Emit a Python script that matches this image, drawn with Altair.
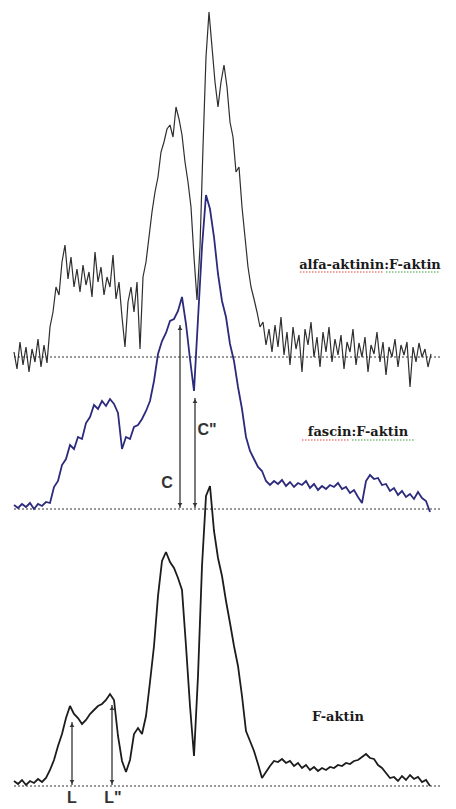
import altair as alt
import pandas as pd

# ---- profile data (heights above each trace's own baseline) ----
alfa_pos = list(range(14, 432, 3))
alfa_h = [5, -12, 15, -8, 10, -15, 8, -5, 18, -10, 12, -6,
          30, 45, 70, 62, 95, 112, 78, 100, 70, 88, 65, 92, 72, 85, 60, 105,
          75, 90, 62, 80, 70, 102, 58, 75, 40, 10, 55, 70, 45, 75, 8, 80,
          95, 120, 145, 165, 180, 205, 215, 228, 232, 220, 250, 238, 222, 195,
          175, 150, 100, 57, 110, 210, 300, 345, 310, 275, 250, 275, 292, 270,
          235, 220, 185, 190, 150, 120, 90, 70, 58, 45, 30, 35, 12, 28, 5, 32,
          10, 40, 2, 25, -8, 30, 8, 22, -15, 28, 12, 35, 0, 20, -10, 25, 5, 30,
          -5, 18, 2, 22, -12, 15, 5, 28, -8, 14, 0, 20, -15, 12, 3, 25, -5, 15,
          -18, 10, 0, 18, -10, 12, 2, 15, -30, 10, -5, 14, 0, 8, -10, 3]

fascin_pos = list(range(14, 431, 4))
fascin_h = [4, 1, 5, 2, 6, 0, 5, 3, 7, 6,
            22, 28, 44, 50, 64, 60, 72, 70, 86, 92,
            104, 100, 108, 103, 110, 105, 96, 60, 72, 70,
            82, 84, 90, 98, 108, 128, 155, 168, 176, 188,
            190, 198, 212, 185, 150, 118, 190, 262, 314, 300,
            272, 235, 208, 192, 165, 148, 122, 100, 72, 58,
            50, 42, 38, 28,
            24, 28, 25, 29, 23, 27, 22, 26, 24, 28,
            21, 25, 19, 23, 20, 24, 22, 26, 20, 22,
            16, 19, 12, 6, 28, 34, 30, 31, 24, 25,
            18, 21, 14, 18, 12, 15, 10, 17, 11, 8, -3]

faktin_pos = list(range(14, 431, 4))
faktin_h = [5, 2, 6, 1, 5, 3, 7, 4, 8, 16,
            26, 40, 52, 68, 80, 72, 68, 62, 66, 72,
            76, 80, 82, 86, 92, 86, 50, 25, 14, 26,
            52, 58, 52, 70, 104, 140, 190, 225, 234, 224,
            218, 208, 196, 140, 80, 30, 110, 220, 290, 300,
            255, 228, 210, 185, 163, 140, 120, 90, 55, 45,
            35, 22, 8,
            14, 20, 25, 24, 27, 23, 25, 20, 23, 18,
            21, 16, 19, 15, 18, 16, 19, 18, 21, 20,
            23, 22, 25, 26, 29, 32, 28, 27, 21, 18,
            13, 8, 9, 5, 10, 6, 11, 7, 9, 4, 6, 0]

trace_names = ["alfa-aktinin:F-aktin", "fascin:F-aktin", "F-aktin"]
trace_offsets = [452, 300, 23]
trace_colors = ["#2e2e2e", "#2c2a7c", "#1c1c1c"]
trace_widths = [1.2, 1.8, 1.8]

label_pos = [370, 358, 338]
label_h = [92, 77, 69]

# spell-check style underlines beneath the labels
underline_trace = [0, 0, 1, 1]
underline_x1 = [300, 386, 302, 352]
underline_x2 = [384, 440, 350, 414]
underline_h = [85, 85, 69, 69]
underline_color = ["#e0403a", "#3c9a3c", "#e0403a", "#3c9a3c"]

arrow_names = ["C", 'C"', "L", 'L"']
arrow_trace = [1, 1, 2, 2]
arrow_pos = [180, 195, 72, 112]
arrow_top = [184, 111, 64, 81]
arrow_text_pos = [167, 207, 72, 113]
arrow_text_h = [26, 79, -12, -12]

# ---- build tables ----
profiles = [(alfa_pos, alfa_h), (fascin_pos, fascin_h), (faktin_pos, faktin_h)]

xs = alt.Scale(domain=[0, 456], nice=False, zero=False)
ys = alt.Scale(domain=[0, 809], nice=False, zero=False)

layers = []

base_df = pd.DataFrame({
    "x": [14] * 3, "x2": [440] * 3, "level": trace_offsets
})
layers.append(
    alt.Chart(base_df).mark_rule(color="#333333", strokeDash=[2, 2], strokeWidth=1).encode(
        x=alt.X("x:Q", scale=xs, axis=None), x2="x2:Q",
        y=alt.Y("level:Q", scale=ys, axis=None))
)

for (pos, h), off, col, w in zip(profiles, trace_offsets, trace_colors, trace_widths):
    df = pd.DataFrame({"pos": pos, "level": [v + off for v in h]})
    layers.append(
        alt.Chart(df).mark_line(color=col, strokeWidth=w, strokeJoin="miter",
                                strokeMiterLimit=2).encode(
            x=alt.X("pos:Q", scale=xs, axis=None),
            y=alt.Y("level:Q", scale=ys, axis=None))
    )

arr_df = pd.DataFrame({
    "name": arrow_names,
    "x": arrow_pos,
    "y1": [trace_offsets[t] + 1 for t in arrow_trace],
    "y2": [trace_offsets[t] + a for t, a in zip(arrow_trace, arrow_top)],
    "tx": arrow_text_pos,
    "ty": [trace_offsets[t] + a for t, a in zip(arrow_trace, arrow_text_h)],
})
layers.append(
    alt.Chart(arr_df).mark_rule(color="#333333", strokeWidth=1.3).encode(
        x=alt.X("x:Q", scale=xs, axis=None),
        y=alt.Y("y1:Q", scale=ys, axis=None), y2="y2:Q")
)
layers.append(
    alt.Chart(arr_df).mark_point(shape="triangle-down", filled=True, size=22,
                                 color="#333333", opacity=1, yOffset=-3).encode(
        x=alt.X("x:Q", scale=xs, axis=None),
        y=alt.Y("y1:Q", scale=ys, axis=None))
)
layers.append(
    alt.Chart(arr_df).mark_point(shape="triangle-up", filled=True, size=22,
                                 color="#333333", opacity=1, yOffset=3).encode(
        x=alt.X("x:Q", scale=xs, axis=None),
        y=alt.Y("y2:Q", scale=ys, axis=None))
)
layers.append(
    alt.Chart(arr_df).mark_text(font="Liberation Sans", fontWeight="bold", fontSize=16,
                                color="#333333", align="center", baseline="middle").encode(
        x=alt.X("tx:Q", scale=xs, axis=None),
        y=alt.Y("ty:Q", scale=ys, axis=None),
        text="name:N")
)

ul_df = pd.DataFrame({
    "x": underline_x1, "x2": underline_x2,
    "level": [trace_offsets[t] + h for t, h in zip(underline_trace, underline_h)],
    "col": underline_color,
})
layers.append(
    alt.Chart(ul_df).mark_rule(strokeDash=[1.5, 1.5], strokeWidth=1.2).encode(
        x=alt.X("x:Q", scale=xs, axis=None), x2="x2:Q",
        y=alt.Y("level:Q", scale=ys, axis=None),
        color=alt.Color("col:N", scale=None))
)

lab_df = pd.DataFrame({
    "name": trace_names,
    "x": label_pos,
    "y": [o + h for o, h in zip(trace_offsets, label_h)],
})
layers.append(
    alt.Chart(lab_df).mark_text(font="DejaVu Serif", fontWeight="bold", fontSize=13,
                                color="#1a1a1a", align="center", baseline="middle").encode(
        x=alt.X("x:Q", scale=xs, axis=None),
        y=alt.Y("y:Q", scale=ys, axis=None),
        text="name:N")
)

chart = alt.layer(*layers).properties(
    width=456, height=809,
    autosize=alt.AutoSizeParams(type="none"),
    padding=0,
    background="white",
).configure_view(stroke=None)

chart.save("out.html", embed_options={"renderer": "svg", "actions": False})
